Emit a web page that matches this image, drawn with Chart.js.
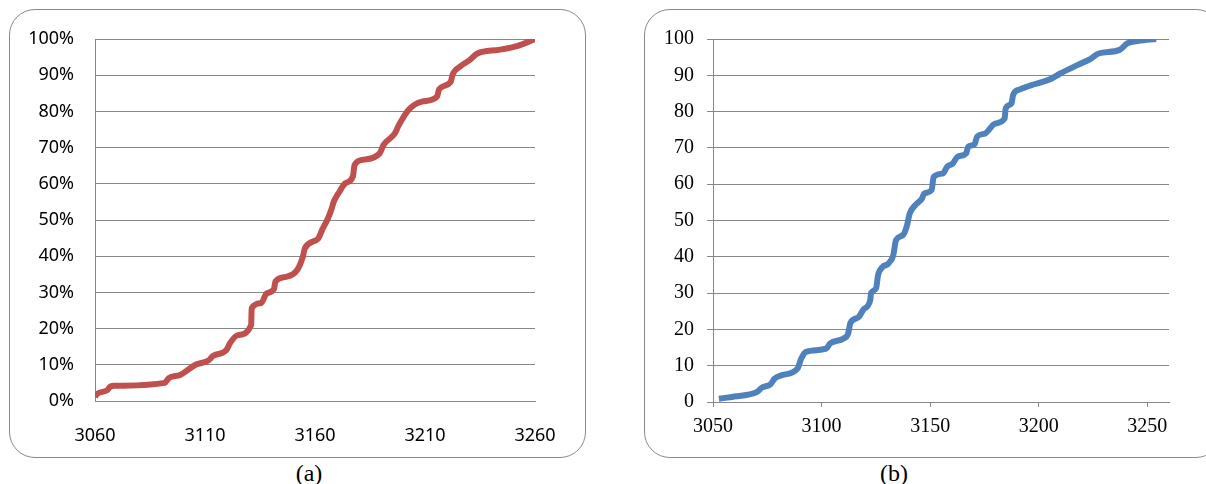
<!DOCTYPE html>
<html>
<head>
<meta charset="utf-8">
<script src="https://cdn.jsdelivr.net/npm/chart.js@4.4.1/dist/chart.umd.min.js"></script>
<style>
  html, body { margin: 0; padding: 0; background: #fff; overflow: hidden; }
  body { width: 1206px; height: 484px; position: relative; }
  .box { position: absolute; border: 1.5px solid #8a8a8a; border-radius: 26px; box-sizing: border-box; }
  .wrap { position: absolute; top: 0; width: 600px; height: 460px; }
  .cap { position: absolute; top: 461px; font-family: "Liberation Serif", serif; font-size: 24px; line-height: 1; transform: translateX(-50%); }
</style>
</head>
<body>
<div class="box" style="left:9px; top:9px; width:577px; height:449px;"></div>
<div class="box" style="left:644px; top:9px; width:578px; height:449px;"></div>
<div class="wrap" style="left:0px;"><canvas id="chartA"></canvas></div>
<div class="wrap" style="left:606px;"><canvas id="chartB"></canvas></div>
<div class="cap" style="left:309px;">(a)</div>
<div class="cap" style="left:894px;">(b)</div>
<script>
// (a) cumulative share
const aX = [3060, 3061, 3065.6, 3067, 3069, 3091.7, 3093.5, 3098.7, 3105.7, 3111.8, 3113.5, 3119.6, 3121.4, 3124.9, 3131, 3131.2,
  3135.4, 3138, 3141.4, 3142, 3146.7, 3151.9, 3154.5, 3155.4, 3161.5, 3163.2, 3165.9, 3167.6, 3168.5, 3171.1, 3173.7,
  3177.2, 3178, 3181.5, 3189.4, 3191.1, 3196.3, 3198.1, 3202.5, 3208.6, 3215.5, 3216.4, 3221.7, 3222.5, 3226, 3230.4,
  3233.8, 3243.5, 3252.2, 3260];
const aPct = [1.2, 2, 3, 4, 4.2, 5, 6.3, 7.2, 10, 11.3, 12.4, 14, 16, 18.2, 21, 25.6,
  27, 29.7, 31, 33, 34.3, 36.2, 39.9, 42.2, 44.9, 47.2, 50.5, 53.2, 55, 57.8, 60.1,
  62, 65.2, 66.6, 68.4, 70.7, 73.9, 76.2, 80.4, 82.7, 84.1, 86.1, 88.2, 90.1, 92.4, 94.2,
  96, 97, 98.1, 100];

// (b) cumulative count
const bX = [3052.7, 3058.8, 3065.9, 3070.3, 3072.6, 3076.5, 3078.3, 3081.8, 3088.9, 3090.6, 3092.8, 3102.1, 3103.9, 3110.1,
  3112.2, 3113.3, 3117.1, 3119.3, 3122.4, 3122.8, 3125.1, 3126, 3128.1, 3130.7, 3133, 3134.3, 3137.5, 3139.2, 3140.6,
  3143.6, 3146.3, 3147.2, 3150.7, 3151.6, 3156, 3157.8, 3160.4, 3162.7, 3166.6, 3167.5, 3170.5, 3171.6, 3175.4, 3179.9,
  3184.3, 3184.8, 3187.5, 3188.2, 3191.3, 3198.4, 3205.5, 3209.9, 3217.8, 3223.5, 3227.6, 3237.3, 3240.8, 3246.1, 3254.1];
const bVal = [0.9, 1.4, 2, 2.8, 4, 4.9, 6.4, 7.4, 9.2, 11.9, 13.8, 14.7, 16.1, 17.5,
  18.8, 21.8, 23.4, 25.5, 28, 30, 31.3, 34.9, 37.2, 38.1, 40.4, 44.6, 46, 48.3, 51.9,
  54.5, 56.1, 57.4, 58.4, 62, 63, 64.8, 65.7, 67.6, 68.5, 70.3, 71, 73.1, 74, 76.7,
  78.1, 80.9, 82.3, 84.6, 86.1, 87.6, 89, 90.5, 92.8, 94.4, 96, 97, 98.8, 99.5, 100];

const gridGray = '#878787';

// fixed axis sizes so the plot area lands where the original has it
function fixWidth(w) { return function(scale) { scale.width = w; }; }
function fixHeight(h) { return function(scale) { scale.height = h; }; }

new Chart(document.getElementById('chartA'), {
  type: 'line',
  data: {
    datasets: [{
      data: aX.map((x, i) => ({ x: x, y: aPct[i] })),
      borderColor: '#C0504D',
      borderWidth: 6,
      pointRadius: 0,
      cubicInterpolationMode: 'monotone',
      fill: false
    }]
  },
  options: {
    responsive: true,
    maintainAspectRatio: false,
    animation: false,
    layout: { padding: { top: 39, right: 65, left: 0, bottom: 0 } },
    plugins: { legend: { display: false }, tooltip: { enabled: false } },
    scales: {
      x: {
        type: 'linear',
        min: 3060,
        max: 3260,
        afterFit: fixHeight(59),
        grid: { display: false },
        border: { display: true, color: gridGray, width: 1 },
        ticks: { stepSize: 50, padding: 16, color: '#000', maxRotation: 0,
                 font: { family: 'Noto Sans', size: 18 },
                 callback: v => String(v) }
      },
      y: {
        min: 0,
        max: 100,
        afterFit: fixWidth(95),
        grid: { color: gridGray, lineWidth: 1, drawTicks: false },
        border: { display: true, color: gridGray, width: 1 },
        ticks: { stepSize: 10, padding: 21, color: '#000',
                 font: { family: 'Noto Sans', size: 18 },
                 callback: v => v + '%' }
      }
    }
  }
});

new Chart(document.getElementById('chartB'), {
  type: 'line',
  data: {
    datasets: [{
      data: bX.map((x, i) => ({ x: x, y: bVal[i] })),
      borderColor: '#4F81BD',
      borderWidth: 6,
      pointRadius: 0,
      cubicInterpolationMode: 'monotone',
      fill: false
    }]
  },
  options: {
    responsive: true,
    maintainAspectRatio: false,
    animation: false,
    layout: { padding: { top: 39, right: 37, left: 0, bottom: 0 } },
    plugins: { legend: { display: false }, tooltip: { enabled: false } },
    scales: {
      x: {
        type: 'linear',
        min: 3050,
        max: 3260,
        afterFit: fixHeight(58),
        grid: { drawOnChartArea: false, drawTicks: true, tickLength: 5, color: gridGray },
        border: { display: true, color: gridGray, width: 1 },
        ticks: { stepSize: 50, includeBounds: false, padding: 8, color: '#000', maxRotation: 0,
                 font: { family: 'Liberation Serif', size: 20 },
                 callback: v => String(v) }
      },
      y: {
        min: 0,
        max: 100,
        afterFit: fixWidth(107),
        grid: { color: gridGray, lineWidth: 1, drawTicks: true, tickLength: 6 },
        border: { display: true, color: gridGray, width: 1 },
        ticks: { stepSize: 10, padding: 13, color: '#000',
                 font: { family: 'Liberation Serif', size: 20 } }
      }
    }
  }
});
</script>
</body>
</html>
